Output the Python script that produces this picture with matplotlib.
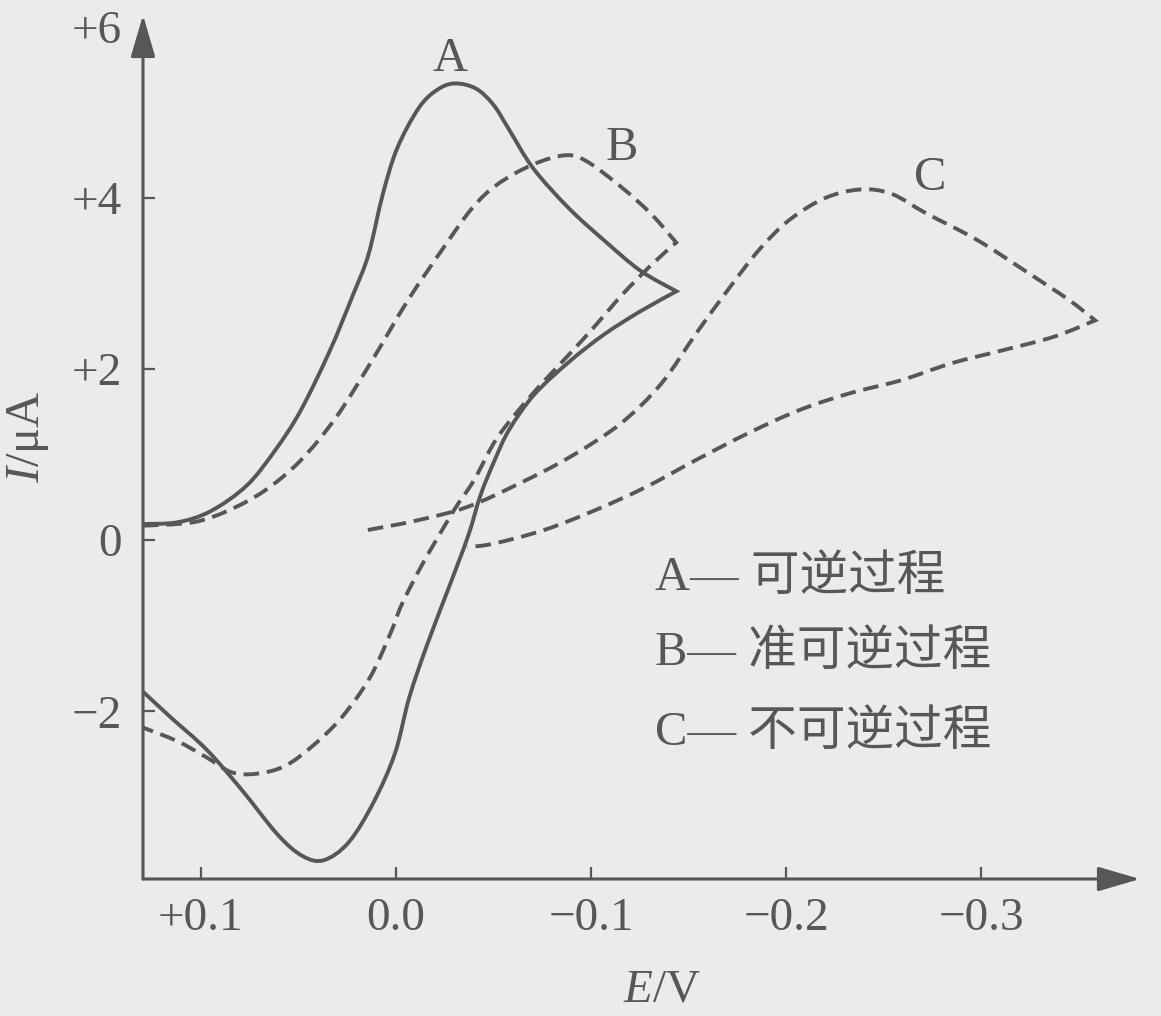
import matplotlib
matplotlib.use("Agg")
import matplotlib.pyplot as plt
from matplotlib.path import Path
from matplotlib.patches import PathPatch

# ---------------- data ----------------
# Curve A: reversible (solid). Forward scan ends at the switching potential,
# reverse scan starts there.
A_fwd_E = [0.1297, 0.112, 0.095, 0.0765, 0.062, 0.049, 0.034, 0.022, 0.0141, 0.0068,
           -0.0006, -0.0116, -0.0208, -0.030, -0.041, -0.050, -0.0575, -0.0703, -0.0887,
           -0.107, -0.1254, -0.1438]
A_fwd_I = [0.19, 0.21, 0.34, 0.64, 1.05, 1.51, 2.21, 2.87, 3.34, 4.04,
           4.58, 5.05, 5.26, 5.34, 5.28, 5.09, 4.82, 4.35, 3.88,
           3.50, 3.15, 2.91]
A_rev_E = [-0.1438, -0.1256, -0.107, -0.089, -0.0708, -0.058, -0.0507, -0.0434, -0.037,
           -0.027, -0.016, -0.0068, 0.0005, 0.0114, 0.0242, 0.037, 0.048, 0.0607, 0.079,
           0.097, 0.1155, 0.1297]
A_rev_I = [2.91, 2.68, 2.41, 2.09, 1.70, 1.29, 0.94, 0.53, 0.05,
           -0.56, -1.22, -1.84, -2.49, -3.06, -3.53, -3.74, -3.69, -3.44, -2.92,
           -2.45, -2.07, -1.77]

# Curve B: quasi-reversible (dashed)
B_fwd_E = [0.1297, 0.104, 0.0857, 0.0673, 0.049, 0.0306, 0.0123, -0.006, -0.0244, -0.039,
           -0.052, -0.070, -0.0868, -0.0978, -0.116, -0.131, -0.1437]
B_fwd_I = [0.17, 0.21, 0.35, 0.58, 0.93, 1.44, 2.10, 2.80, 3.42, 3.88,
           4.16, 4.39, 4.50, 4.43, 4.12, 3.81, 3.48]
B_rev_E = [-0.1437, -0.131, -0.116, -0.1015, -0.0887, -0.070, -0.052, -0.040, -0.030,
           -0.0138, -0.003, 0.0023, 0.0132, 0.0278, 0.0425, 0.057, 0.0717, 0.0845,
           0.097, 0.112, 0.1297]
B_rev_I = [3.48, 3.22, 2.87, 2.49, 2.17, 1.71, 1.20, 0.70, 0.36,
           -0.27, -0.75, -1.06, -1.60, -2.07, -2.40, -2.64, -2.73, -2.71,
           -2.54, -2.35, -2.19]

# Curve C: irreversible (dashed)
C_fwd_E = [0.0144, -0.0105, -0.0367, -0.0629, -0.089, -0.115, -0.136, -0.154, -0.170,
           -0.186, -0.2015, -0.220, -0.238, -0.254, -0.272, -0.298, -0.3245, -0.345,
           -0.3585]
C_fwd_I = [0.12, 0.23, 0.39, 0.66, 0.97, 1.36, 1.83, 2.42, 2.92,
           3.39, 3.74, 4.00, 4.10, 4.05, 3.82, 3.51, 3.12, 2.81,
           2.57]
C_rev_E = [-0.3585, -0.3375, -0.311, -0.285, -0.259, -0.233, -0.2067, -0.1805, -0.154,
           -0.128, -0.102, -0.076, -0.050, -0.0367]
C_rev_I = [2.57, 2.38, 2.22, 2.07, 1.87, 1.72, 1.52, 1.25, 0.94,
           0.62, 0.35, 0.12, -0.04, -0.08]

x_ticks = [0.1, 0.0, -0.1, -0.2, -0.3]
x_tick_labels = ["+0.1", "0.0", "\u22120.1", "\u22120.2", "\u22120.3"]
y_ticks = [-2, 0, 2, 4, 6]
y_tick_labels = ["\u22122", "0", "+2", "+4", "+6"]

curve_names = ["A", "B", "C"]
curve_label_E = [-0.0277, -0.1159, -0.2738]
curve_label_I = [5.62, 4.58, 4.23]
legend_lines = ["A\u2014 可逆过程", "B\u2014 准可逆过程", "C\u2014 不可逆过程"]

# ---------------- style ----------------
BG = "#ebebeb"
INK = "#575757"
plt.rcParams["mathtext.fontset"] = "custom"
plt.rcParams["mathtext.rm"] = "Liberation Serif"
plt.rcParams["mathtext.it"] = "Liberation Serif:italic"
SERIF = ["Liberation Serif", "Noto Sans CJK SC", "DejaVu Sans"]
plt.rcParams["font.family"] = SERIF


def smooth_path(pieces):
    """Smooth cubic path through the read points of each scan piece
    (Catmull-Rom tangents); pieces meet at a sharp corner (switching potential)."""
    verts, codes = [], []
    for k, (xs, ys) in enumerate(pieces):
        P = list(zip(xs, ys))
        if k == 0:
            verts.append(P[0])
            codes.append(Path.MOVETO)
        n = len(P)
        for i in range(n - 1):
            p0 = P[i - 1] if i > 0 else P[i]
            p1, p2 = P[i], P[i + 1]
            p3 = P[i + 2] if i + 2 < n else P[i + 1]
            c1 = (p1[0] + (p2[0] - p0[0]) / 6.0, p1[1] + (p2[1] - p0[1]) / 6.0)
            c2 = (p2[0] - (p3[0] - p1[0]) / 6.0, p2[1] - (p3[1] - p1[1]) / 6.0)
            verts += [c1, c2, p2]
            codes += [Path.CURVE4] * 3
    return Path(verts, codes)


W, H = 1161, 1016
fig = plt.figure(figsize=(W / 100, H / 100), dpi=100, facecolor=BG)
x0, x1, y0, y1 = 143, 1140, 879, 15
ax = fig.add_axes([x0 / W, (H - y0) / H, (x1 - x0) / W, (y0 - y1) / H])
ax.set_facecolor("none")

ax.set_xlim(0.1297, -0.3815)
ax.set_ylim(-3.96, 6.14)

lw = 2.8
dash = (0, (4.0, 2.0))
curves = [
    ([(A_fwd_E, A_fwd_I), (A_rev_E, A_rev_I)], "-"),
    ([(B_fwd_E, B_fwd_I), (B_rev_E, B_rev_I)], dash),
    ([(C_fwd_E, C_fwd_I), (C_rev_E, C_rev_I)], dash),
]
for pieces, ls in curves:
    patch = PathPatch(smooth_path(pieces), facecolor="none", edgecolor=INK,
                      lw=lw, linestyle=ls, joinstyle="miter", capstyle="butt")
    ax.add_patch(patch)

for s in ax.spines.values():
    s.set_visible(False)

# axis lines with arrows
arrow_style = "-|>,head_length=1.3,head_width=0.38"
for end in [(1.0, 0.0), (0.0, 1.0)]:
    ax.annotate("", xy=end, xytext=(0.0, 0.0), xycoords="axes fraction",
                arrowprops=dict(arrowstyle=arrow_style, color=INK, lw=2.2,
                                mutation_scale=20, shrinkA=0, shrinkB=0))

ax.set_xticks(x_ticks)
ax.set_xticklabels(x_tick_labels)
ax.set_yticks(y_ticks)
ax.set_yticklabels(y_tick_labels)
ax.tick_params(direction="in", length=8.5, width=1.6, color=INK,
               labelcolor=INK, labelsize=34)
ax.tick_params(axis="x", pad=13)
ax.tick_params(axis="y", pad=15)
ax.yaxis.get_major_ticks()[-1].tick1line.set_visible(False)

# curve labels
for name, ex, iy in zip(curve_names, curve_label_E, curve_label_I):
    ax.text(ex, iy, name, color=INK, fontsize=35, ha="center", va="center")

# legend text
legend_y = [578, 653, 733]
for t, yy in zip(legend_lines, legend_y):
    fig.text(655 / W, 1 - yy / H, t, color=INK, fontsize=35,
             ha="left", va="center", family=SERIF)

# axis labels
fig.text(662 / W, 1 - 990 / H, r"$E$/V", color=INK, fontsize=34, ha="center", va="center")
fig.text(28 / W, 1 - 437 / H, r"$I$/μA", color=INK, fontsize=35, ha="center",
         va="center", rotation=90)

fig.savefig("out.png", dpi=100, facecolor=BG)
